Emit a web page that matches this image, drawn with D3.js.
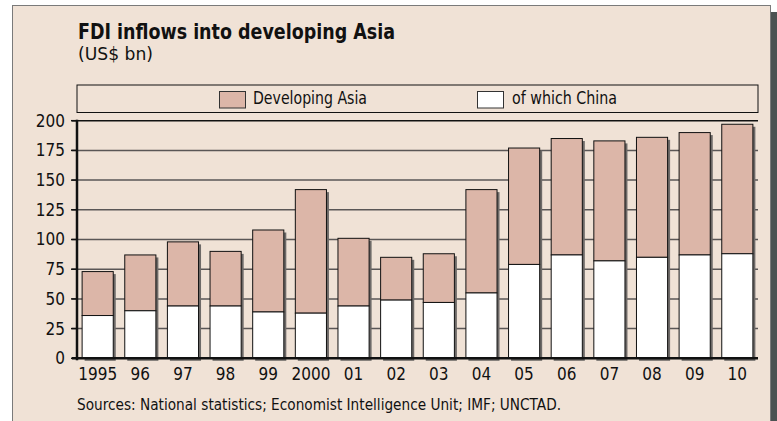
<!DOCTYPE html>
<html><head><meta charset="utf-8">
<script src="https://cdn.jsdelivr.net/npm/d3@7"></script>
<style>
html,body{margin:0;padding:0;background:#fff;}
svg{display:block;}
text{font-family:"Liberation Sans Narrow","DejaVu Sans Condensed","Roboto Condensed",sans-serif;fill:#111;}
</style></head>
<body>
<script>
const years = ["1995","96","97","98","99","2000","01","02","03","04","05","06","07","08","09","10"];
const developingAsia = [73, 87, 98, 90, 108, 142, 101, 85, 88, 142, 177, 185, 183, 186, 190, 197];
const china = [36, 40, 44, 44, 39, 38, 44, 49, 47, 55, 79, 87, 82, 85, 87, 88];
const yTicks = [0, 25, 50, 75, 100, 125, 150, 175, 200];
const legendLabels = ["Developing Asia", "of which China"];
const sourceText = "Sources: National statistics; Economist Intelligence Unit; IMF; UNCTAD.";

const W = 777, H = 421;
const bg = "#f0e2d6", asiaFill = "#dcb6a8", chinaFill = "#ffffff";

const svg = d3.select("body").append("svg").attr("width", W).attr("height", H);

// frame with shadow
svg.append("rect").attr("x", 0).attr("y", 0).attr("width", W).attr("height", H).attr("fill", "#fff");
svg.append("rect").attr("x", 771).attr("y", 12).attr("width", 6).attr("height", H).attr("fill", "#4b5252");
svg.append("rect").attr("x", 12.5).attr("y", 5.5).attr("width", 758).attr("height", H + 10)
  .attr("fill", bg).attr("stroke", "#7a7a7a").attr("stroke-width", 1);

// title
svg.append("text").attr("x", 78).attr("y", 38.5).attr("font-size", 22).attr("font-weight", "bold")
  .attr("textLength", 317).attr("lengthAdjust", "spacingAndGlyphs")
  .text("FDI inflows into developing Asia");
svg.append("text").attr("x", 78).attr("y", 60).attr("font-size", 18)
  .attr("textLength", 75).attr("lengthAdjust", "spacingAndGlyphs")
  .text("(US$ bn)");

// legend
svg.append("rect").attr("x", 77).attr("y", 85).attr("width", 681).attr("height", 27.5)
  .attr("fill", "none").attr("stroke", "#111").attr("stroke-width", 1);
const legendItems = [
  {label: legendLabels[0], fill: asiaFill, sx: 219.5, tx: 253, tw: 114},
  {label: legendLabels[1], fill: chinaFill, sx: 477.5, tx: 512, tw: 105}
];
legendItems.forEach(d => {
  svg.append("rect").attr("x", d.sx).attr("y", 91.5).attr("width", 26).attr("height", 16.5)
    .attr("fill", d.fill).attr("stroke", "#333").attr("stroke-width", 1);
  svg.append("text").attr("x", d.tx).attr("y", 104).attr("font-size", 17)
    .attr("textLength", d.tw).attr("lengthAdjust", "spacingAndGlyphs").text(d.label);
});

// scales
const x = d3.scaleBand().domain(years).range([77, 758]).paddingInner(0.27).paddingOuter(0.12);
const y = d3.scaleLinear().domain([0, 200]).range([358.3, 120.7]);

// gridlines
svg.append("g").selectAll("line").data(yTicks.filter(t => t > 0)).join("line")
  .attr("x1", 72).attr("x2", 758)
  .attr("y1", d => y(d)).attr("y2", d => y(d))
  .attr("stroke", d => d === 200 ? "#111" : "#5a5656").attr("stroke-width", 1.5);

// y axis labels via d3 axis
const yAxis = d3.axisLeft(y).tickValues(yTicks).tickSize(0).tickPadding(12);
const gy = svg.append("g").attr("transform", "translate(77,0)").call(yAxis);
gy.select(".domain").remove();
gy.selectAll("text").attr("font-size", 17).attr("fill", "#111")
  .style("font-family", '"Liberation Sans Narrow","DejaVu Sans Condensed",sans-serif');

// bars: shadow then stacked
const bars = svg.append("g");
bars.selectAll("rect.shadow").data(years).join("rect").attr("class", "shadow")
  .attr("x", d => x(d) + 2.5).attr("y", (d, i) => y(developingAsia[i]) + 2.5)
  .attr("width", x.bandwidth()).attr("height", (d, i) => y(0) - y(developingAsia[i]))
  .attr("fill", "#6e6a68");
bars.selectAll("rect.asia").data(years).join("rect").attr("class", "asia")
  .attr("x", d => x(d)).attr("y", (d, i) => y(developingAsia[i]))
  .attr("width", x.bandwidth()).attr("height", (d, i) => y(china[i]) - y(developingAsia[i]))
  .attr("fill", asiaFill).attr("stroke", "#111").attr("stroke-width", 1);
bars.selectAll("rect.china").data(years).join("rect").attr("class", "china")
  .attr("x", d => x(d)).attr("y", (d, i) => y(china[i]))
  .attr("width", x.bandwidth()).attr("height", (d, i) => y(0) - y(china[i]))
  .attr("fill", chinaFill).attr("stroke", "#111").attr("stroke-width", 1);

// baseline and y axis line
svg.append("line").attr("x1", 72).attr("x2", 758).attr("y1", y(0)).attr("y2", y(0))
  .attr("stroke", "#111").attr("stroke-width", 2.5);
svg.append("line").attr("x1", 77).attr("x2", 77).attr("y1", y(200) - 1).attr("y2", y(0) + 2)
  .attr("stroke", "#111").attr("stroke-width", 2.5);
// left ticks
svg.append("g").selectAll("line").data(yTicks).join("line")
  .attr("x1", 71).attr("x2", 77).attr("y1", d => y(d)).attr("y2", d => y(d))
  .attr("stroke", "#111").attr("stroke-width", 1.5);

// x axis labels
const xAxis = d3.axisBottom(x).tickSize(0).tickPadding(10);
const gx = svg.append("g").attr("transform", `translate(0,${y(0)})`).call(xAxis);
gx.select(".domain").remove();
gx.selectAll("text").attr("font-size", 17).attr("fill", "#111")
  .style("font-family", '"Liberation Sans Narrow","DejaVu Sans Condensed",sans-serif');

// source
svg.append("text").attr("x", 77).attr("y", 410).attr("font-size", 15)
  .attr("textLength", 484).attr("lengthAdjust", "spacingAndGlyphs").text(sourceText);
</script>
</body></html>
